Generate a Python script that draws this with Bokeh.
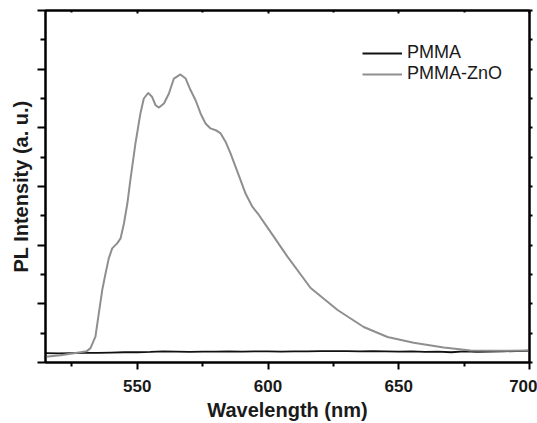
from bokeh.plotting import figure
from bokeh.models import (Range1d, LinearAxis, FixedTicker, Legend, LegendItem,
                          CustomJSTickFormatter)
from bokeh.embed import file_html
from bokeh.resources import INLINE

# Photoluminescence spectra (arbitrary units)
pmma_nm = [515, 520, 525, 530, 535, 540, 545, 550, 555, 560, 565, 570, 575, 580,
           585, 590, 595, 600, 605, 610, 615, 620, 625, 630, 635, 640, 645, 650,
           655, 660, 665, 670, 675, 680, 685, 690, 695, 700]
pmma_pl = [0.32, 0.31, 0.32, 0.33, 0.33, 0.34, 0.35, 0.35, 0.36, 0.38, 0.37, 0.36,
           0.37, 0.37, 0.38, 0.37, 0.38, 0.38, 0.37, 0.38, 0.38, 0.39, 0.39, 0.39,
           0.38, 0.39, 0.38, 0.37, 0.38, 0.36, 0.37, 0.35, 0.38, 0.36, 0.37, 0.38,
           0.39, 0.40]

zno_nm = [514.9, 520.6, 524.5, 528.3, 530.6, 532.1, 534.0, 535.3, 536.6, 537.9,
          539.1, 540.4, 542.3, 543.6, 544.9, 546.2, 547.4, 549.3, 551.2, 552.5,
          554.2, 555.7, 557.0, 558.3, 560.2, 562.1, 564.0, 566.5, 568.5, 570.4,
          572.3, 574.2, 576.1, 578.0, 580.0, 581.9, 583.8, 585.7, 587.6, 589.5,
          591.4, 594.0, 596.5, 599.1, 602.2, 604.8, 607.5, 616.3, 626.6, 636.6,
          645.7, 655.7, 667.2, 677.5, 689.0, 700.0]
zno_pl = [0.20, 0.245, 0.30, 0.35, 0.38, 0.49, 0.88, 1.68, 2.47, 3.05,
          3.55, 3.89, 4.06, 4.23, 4.74, 5.42, 6.25, 7.47, 8.49, 9.00,
          9.19, 9.05, 8.77, 8.69, 8.83, 9.17, 9.68, 9.82, 9.68, 9.28,
          8.94, 8.49, 8.15, 7.98, 7.92, 7.81, 7.52, 7.12, 6.67, 6.22,
          5.76, 5.31, 5.03, 4.69, 4.29, 3.95, 3.60, 2.54, 1.79, 1.21,
          0.87, 0.67, 0.51, 0.41, 0.40, 0.41]

x_major = [550, 600, 650, 700]
x_minor = [525, 575, 625, 675]
y_major = [0, 2, 4, 6, 8, 10, 12]
y_minor = [1, 3, 5, 7, 9, 11]

FONT = "Liberation Sans"

p = figure(width=537, height=423, output_backend="svg", toolbar_location=None,
           x_range=Range1d(514.9, 700), y_range=Range1d(0, 12),
           min_border_left=45, min_border_right=8, min_border_top=10,
           min_border_bottom=60, x_axis_location=None, y_axis_location=None)
p.grid.visible = False
p.outline_line_color = "black"
p.outline_line_width = 2
p.background_fill_color = "white"
p.border_fill_color = "white"

xt = FixedTicker(ticks=x_major, minor_ticks=x_minor)
yt = FixedTicker(ticks=y_major, minor_ticks=y_minor)


def tick_only(axis):
    # axis that shows tick marks but no tick labels
    axis.formatter = CustomJSTickFormatter(code="return ''")
    axis.major_label_text_font_size = "0px"
    axis.major_label_standoff = 0
    axis.axis_line_width = 2
    axis.major_tick_line_width = 2
    axis.minor_tick_line_width = 2


bottom = LinearAxis(ticker=xt, axis_label="Wavelength (nm)")
bottom.axis_line_width = 2
bottom.major_tick_line_width = 2
bottom.minor_tick_line_width = 2
bottom.major_tick_out = 7
bottom.major_tick_in = 0
bottom.minor_tick_out = 4
bottom.minor_tick_in = 0
bottom.major_label_standoff = 10
bottom.major_label_text_font = FONT
bottom.major_label_text_font_style = "bold"
bottom.major_label_text_font_size = "17px"
bottom.major_label_text_color = "#1a1a1a"
bottom.axis_label_standoff = 4
bottom.axis_label_text_font = FONT
bottom.axis_label_text_font_style = "bold"
bottom.axis_label_text_font_size = "20px"
bottom.axis_label_text_color = "#1a1a1a"
p.add_layout(bottom, "below")

left = LinearAxis(ticker=yt, axis_label="PL Intensity (a. u.)")
tick_only(left)
left.major_tick_out = 8
left.major_tick_in = 0
left.minor_tick_out = 5
left.minor_tick_in = 0
left.axis_label_standoff = 6
left.axis_label_text_font = FONT
left.axis_label_text_font_style = "bold"
left.axis_label_text_font_size = "20px"
left.axis_label_text_color = "#1a1a1a"
p.add_layout(left, "left")

top = LinearAxis(ticker=xt)
tick_only(top)
top.major_tick_out = 0
top.major_tick_in = 3
top.minor_tick_out = 0
top.minor_tick_in = 2
p.add_layout(top, "above")

right = LinearAxis(ticker=yt)
tick_only(right)
right.major_tick_out = 3
right.major_tick_in = 0
right.minor_tick_out = 3
right.minor_tick_in = 0
p.add_layout(right, "right")

r_pmma = p.line(pmma_nm, pmma_pl, line_color="#111111", line_width=1.8)
r_zno = p.line(zno_nm, zno_pl, line_color="#8f8f8f", line_width=2)

legend = Legend(items=[LegendItem(label="PMMA", renderers=[r_pmma]),
                       LegendItem(label="PMMA-ZnO", renderers=[r_zno])],
                location=(317, 278), orientation="vertical")
legend.border_line_alpha = 0
legend.background_fill_alpha = 0
legend.padding = 0
legend.margin = 0
legend.spacing = 0
legend.glyph_width = 40
legend.glyph_height = 20
legend.label_height = 20
legend.label_standoff = 5
legend.label_text_font = FONT
legend.label_text_font_size = "18px"
legend.label_text_color = "#1a1a1a"
p.add_layout(legend)

open("out.html", "w").write(file_html(p, INLINE))
